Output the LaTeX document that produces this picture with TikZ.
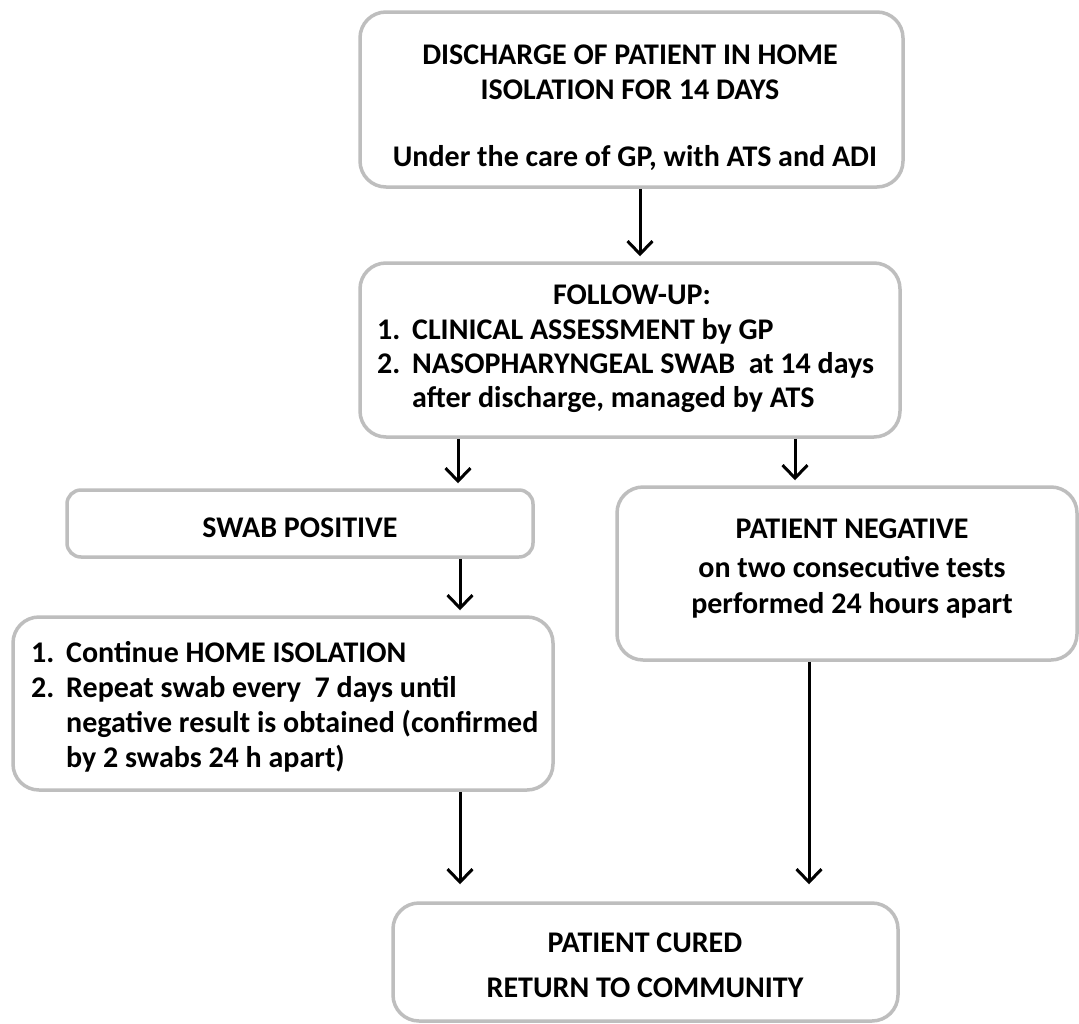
\documentclass[tikz,border=0pt]{standalone}
\usepackage{fontspec}
\setmainfont{Carlito}
\usetikzlibrary{arrows.meta}
\definecolor{boxgray}{RGB}{190,190,190}
\begin{document}
\begin{tikzpicture}[x=1pt,y=-1pt,
  box/.style={draw=boxgray, line width=3.5pt, fill=white, rounded corners=26pt, inner sep=0pt},
  txt/.style={inner sep=0pt, font=\fontsize{30}{36}\selectfont\bfseries},
  arr/.style={draw=black, line width=3pt, -{Straight Barb[length=13pt,width=25pt,line width=3pt]}, shorten >=5pt}
]
\useasboundingbox[fill=white] (0,0) rectangle (1079,1023);
% boxes
\node[box, minimum width=543pt, minimum height=175pt] (b1) at (631.5,99.5) {};
\node[box, minimum width=540pt, minimum height=174pt] (b2) at (630,350) {};
\node[box, rounded corners=14pt, minimum width=466pt, minimum height=67pt] (b3) at (300,523.5) {};
\node[box, minimum width=540pt, minimum height=173pt] (b4) at (283,703.5) {};
\node[box, minimum width=460pt, minimum height=173pt] (b5) at (847,573.5) {};
\node[box, minimum width=505pt, minimum height=118pt] (b6) at (645.5,962) {};
% texts
\node[txt, anchor=base] (t1a) at (630,64) {DISCHARGE OF PATIENT IN HOME};
\node[txt, anchor=base] (t1b) at (630,99) {ISOLATION FOR 14 DAYS};
\node[txt, anchor=base] (t1c) at (635,166) {Under the care of GP, with ATS and ADI};
\node[txt, anchor=base] (t2a) at (632,304) {FOLLOW-UP:};
\node[txt, anchor=base west] (t2b) at (377,339) {\makebox[35pt][l]{1.}CLINICAL ASSESSMENT by GP};
\node[txt, anchor=base west] (t2c) at (377,373) {\makebox[35pt][l]{2.}NASOPHARYNGEAL SWAB~ at 14 days};
\node[txt, anchor=base west] (t2d) at (412,407) {after discharge, managed by ATS};
\node[txt, anchor=base] (t3) at (300,537) {SWAB POSITIVE};
\node[txt, anchor=base west] (t4a) at (31,662) {\makebox[35pt][l]{1.}Continue HOME ISOLATION};
\node[txt, anchor=base west] (t4b) at (31,697) {\makebox[35pt][l]{2.}Repeat swab every~ 7 days until};
\node[txt, anchor=base west] (t4c) at (66,732) {negative result is obtained (confirmed};
\node[txt, anchor=base west] (t4d) at (66,767) {by 2 swabs 24 h apart)};
\node[txt, anchor=base] (t5a) at (852,538) {PATIENT NEGATIVE};
\node[txt, anchor=base] (t5b) at (852,577) {on two consecutive tests};
\node[txt, anchor=base] (t5c) at (852,613) {performed 24 hours apart};
\node[txt, anchor=base] (t6a) at (645,952) {PATIENT CURED};
\node[txt, anchor=base] (t6b) at (645,997) {RETURN TO COMMUNITY};
% connector x positions
\coordinate (xa) at (640,0);
\coordinate (xb) at (458,0);
\coordinate (xc) at (795,0);
\coordinate (xd) at (460,0);
\coordinate (xe) at (809,0);
% connectors
\draw[arr] (b1.south -| xa) -- (b2.north -| xa);
\draw[arr] (b2.south -| xb) -- (b3.north -| xb);
\draw[arr] (b2.south -| xc) -- (b5.north -| xc);
\draw[arr] (b3.south -| xd) -- (b4.north -| xd);
\draw[arr, shorten >=17pt] (b4.south -| xd) -- (b6.north -| xd);
\draw[arr, shorten >=17pt] (b5.south -| xe) -- (b6.north -| xe);
\end{tikzpicture}
\end{document}
